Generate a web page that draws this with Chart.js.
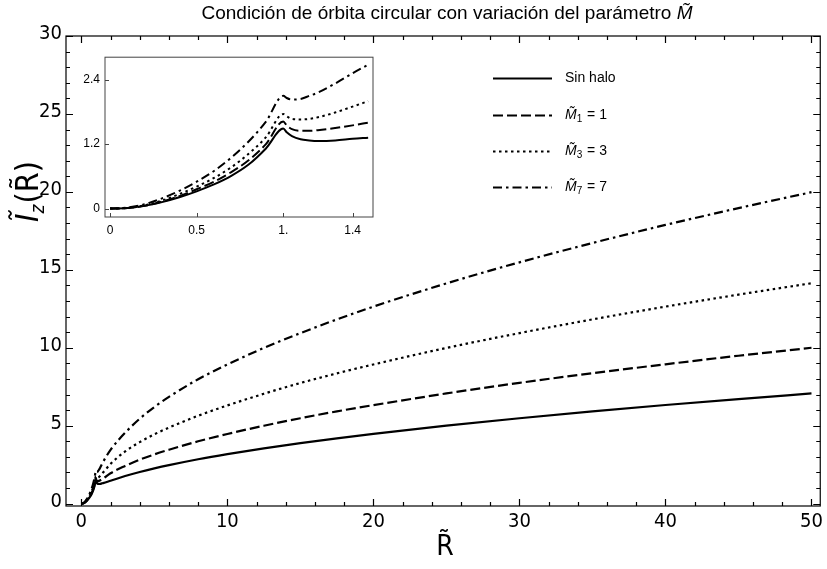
<!DOCTYPE html>
<html>
<head>
<meta charset="utf-8">
<script src="https://cdn.jsdelivr.net/npm/chart.js@4.4.1/dist/chart.umd.min.js"></script>
<style>
html, body { margin: 0; padding: 0; background: #fff; }
#wrap { position: relative; width: 827px; height: 569px; }
#main { position: absolute; left: 0; top: 0; }
#inset { position: absolute; left: 80px; top: 45px; }
</style>
</head>
<body>
<div id="wrap">
  <canvas id="main" width="827" height="569"></canvas>
  <canvas id="inset" width="300" height="200"></canvas>
</div>
<script>
// R values
var radios = [0, 0.1, 0.2, 0.3, 0.4, 0.5, 0.6, 0.7, 0.8, 0.9, 1.0, 1.02, 1.05, 1.1, 1.15, 1.2, 1.3, 1.4, 1.49,
              2, 3, 4, 5, 6, 8, 10, 12.5, 15, 17.5, 20, 25, 30, 35, 40, 45, 50];
var sinHalo = [0, 0.01, 0.05, 0.12, 0.21, 0.32, 0.45, 0.61, 0.82, 1.12, 1.49, 1.42, 1.35, 1.29, 1.27, 1.26, 1.27, 1.30, 1.32,
               1.47, 1.77, 2.03, 2.26, 2.47, 2.85, 3.18, 3.55, 3.88, 4.19, 4.48, 5.0, 5.48, 5.92, 6.33, 6.71, 7.07];
var m1 = [0, 0.01, 0.05, 0.13, 0.23, 0.36, 0.5, 0.68, 0.9, 1.2, 1.62, 1.55, 1.48, 1.45, 1.45, 1.46, 1.5, 1.55, 1.6,
          1.95, 2.42, 2.82, 3.16, 3.46, 4.0, 4.47, 5.0, 5.48, 5.92, 6.32, 7.07, 7.75, 8.37, 8.94, 9.49, 10.0];
var m3 = [0, 0.01, 0.06, 0.15, 0.27, 0.41, 0.57, 0.77, 1.02, 1.33, 1.76, 1.72, 1.67, 1.66, 1.67, 1.7, 1.79, 1.9, 2.0,
          2.55, 3.35, 3.95, 4.45, 4.88, 5.64, 6.3, 7.05, 7.74, 8.36, 8.93, 9.99, 10.94, 11.82, 12.64, 13.41, 14.14];
var m7 = [0, 0.02, 0.08, 0.19, 0.33, 0.5, 0.7, 0.95, 1.25, 1.62, 2.1, 2.06, 2.03, 2.04, 2.1, 2.16, 2.33, 2.52, 2.68,
          3.45, 4.55, 5.45, 6.2, 6.85, 7.98, 8.93, 9.99, 10.94, 11.82, 12.64, 14.13, 15.48, 16.72, 17.88, 18.96, 19.98];

var xTicksMain = [0, 10, 20, 30, 40, 50];
var yTicksMain = [0, 5, 10, 15, 20, 25, 30];
var xTicksInset = [0, 0.5, 1, 1.4];
var xLabelsInset = ['0', '0.5', '1.', '1.4'];
var yTicksInset = [0, 1.2, 2.4];
var yLabelsInset = ['0', '1.2', '2.4'];

var nombres = ['Sin halo', '1', '3', '7'];
var dashes = [[], [10, 4], [2.5, 3.5], [9, 4, 2.5, 4]];

function puntos(ys, maxR) {
    var out = [];
    for (var i = 0; i < radios.length; i++) {
        if (radios[i] <= maxR) out.push({x: radios[i], y: ys[i]});
    }
    return out;
}

function series(maxR, width) {
    return [sinHalo, m1, m3, m7].map(function(ys, i) {
        return {
            label: nombres[i],
            data: puntos(ys, maxR),
            borderColor: '#000',
            borderWidth: width,
            borderDash: dashes[i],
            borderCapStyle: 'butt',
            pointRadius: 0,
            cubicInterpolationMode: 'monotone',
            fill: false
        };
    });
}

function range(a, b, s) {
    var r = [];
    for (var v = a; v <= b + 1e-9; v += s) r.push(Math.round(v * 1000) / 1000);
    return r;
}

// frame + inside ticks, Mathematica style
var frameTicks = {
    id: 'frameTicks',
    afterDraw: function(chart, args, o) {
        var ctx = chart.ctx, a = chart.chartArea;
        var xs = chart.scales.x, ys = chart.scales.y;
        ctx.save();
        ctx.strokeStyle = o.color;
        ctx.lineWidth = o.width;
        ctx.strokeRect(a.left, a.top, a.right - a.left, a.bottom - a.top);
        ctx.beginPath();
        o.xMinor.forEach(function(v) {
            var p = Math.round(xs.getPixelForValue(v)) + 0.5;
            var len = o.xMajor.indexOf(v) >= 0 ? o.major : o.minor;
            ctx.moveTo(p, a.bottom); ctx.lineTo(p, a.bottom - len);
            if (o.mirror) { ctx.moveTo(p, a.top); ctx.lineTo(p, a.top + len); }
        });
        o.yMinor.forEach(function(v) {
            var p = Math.round(ys.getPixelForValue(v)) + 0.5;
            var len = o.yMajor.indexOf(v) >= 0 ? o.major : o.minor;
            ctx.moveTo(a.left, p); ctx.lineTo(a.left + len, p);
            if (o.mirror) { ctx.moveTo(a.right, p); ctx.lineTo(a.right - len, p); }
        });
        ctx.stroke();
        ctx.restore();
    }
};

// title, axis titles and legend
var textos = {
    id: 'textos',
    afterDraw: function(chart) {
        var ctx = chart.ctx;
        ctx.save();
        ctx.fillStyle = '#000';
        ctx.textBaseline = 'middle';

        // title
        ctx.font = '19px "Liberation Sans", Arial, sans-serif';
        var t1 = 'Condición de órbita circular con variación del parámetro ';
        var w1 = ctx.measureText(t1).width;
        ctx.font = 'italic 19px "Liberation Sans", Arial, sans-serif';
        var w2 = ctx.measureText('M\u0303').width;
        var x0 = 447 - (w1 + w2) / 2;
        ctx.font = '19px "Liberation Sans", Arial, sans-serif';
        ctx.textAlign = 'left';
        ctx.fillText(t1, x0, 14);
        ctx.font = 'italic 19px "Liberation Sans", Arial, sans-serif';
        ctx.fillText('M\u0303', x0 + w1, 14);

        // x axis title
        ctx.font = '28px "DejaVu Sans Condensed", "DejaVu Sans", sans-serif';
        ctx.textAlign = 'center';
        ctx.fillText('R\u0303', 445, 548);

        // y axis title, rotated
        ctx.save();
        ctx.translate(30, 192);
        ctx.rotate(-Math.PI / 2);
        var f1 = 'italic 32px "DejaVu Sans Condensed", "DejaVu Sans", sans-serif';
        var f2 = 'italic 19px "DejaVu Sans Condensed", "DejaVu Sans", sans-serif';
        var f3 = '32px "DejaVu Sans Condensed", "DejaVu Sans", sans-serif';
        ctx.font = f1; var a1 = ctx.measureText('\u0128').width;
        ctx.font = f2; var a2 = ctx.measureText('z').width;
        ctx.font = f3; var a3 = ctx.measureText('(R\u0303)').width;
        var sx = -(a1 + a2 + a3) / 2;
        ctx.textAlign = 'left';
        ctx.font = f1; ctx.fillText('\u0128', sx, 0);
        ctx.font = f2; ctx.fillText('z', sx + a1, 9);
        ctx.font = f3; ctx.fillText('(R\u0303)', sx + a1 + a2 + 1, 0);
        ctx.restore();

        // legend
        var filas = [78, 115, 151, 187];
        filas.forEach(function(yy, i) {
            ctx.save();
            ctx.strokeStyle = '#000';
            ctx.lineWidth = 2.2;
            ctx.lineCap = 'butt';
            ctx.setLineDash(dashes[i]);
            ctx.beginPath();
            ctx.moveTo(493, yy + 0.5);
            ctx.lineTo(552, yy + 0.5);
            ctx.stroke();
            ctx.restore();
            ctx.textAlign = 'left';
            if (i === 0) {
                ctx.font = '14px "Liberation Sans", Arial, sans-serif';
                ctx.fillText(nombres[0], 565, yy);
            } else {
                ctx.font = 'italic 14px "Liberation Sans", Arial, sans-serif';
                ctx.fillText('M\u0303', 565, yy);
                var wm = ctx.measureText('M').width;
                ctx.font = '10px "Liberation Sans", Arial, sans-serif';
                ctx.fillText(nombres[i], 565 + wm, yy + 4);
                var ws = ctx.measureText(nombres[i]).width;
                ctx.font = '14px "Liberation Sans", Arial, sans-serif';
                ctx.fillText(' = ' + nombres[i], 565 + wm + ws + 1, yy);
            }
        });
        ctx.restore();
    }
};

var fontMain = {family: '"DejaVu Sans Condensed", "DejaVu Sans", sans-serif', size: 20};
var fontInset = {family: '"Liberation Sans", Arial, sans-serif', size: 12};

var ctxMain = document.getElementById('main').getContext('2d');
var chartMain = new Chart(ctxMain, {
    type: 'line',
    data: { datasets: series(100, 2.2) },
    options: {
        responsive: false,
        animation: false,
        layout: { padding: { top: 36, right: 6, left: 0, bottom: 0 } },
        plugins: {
            legend: { display: false },
            tooltip: { enabled: false },
            frameTicks: {
                color: '#000', width: 1.2, major: 7, minor: 4, mirror: true,
                xMajor: xTicksMain, xMinor: range(0, 50, 2),
                yMajor: yTicksMain, yMinor: range(0, 30, 1)
            }
        },
        scales: {
            x: {
                type: 'linear', min: -1.05, max: 50.6,
                afterBuildTicks: function(s) { s.ticks = xTicksMain.map(function(v) { return {value: v}; }); },
                afterFit: function(s) { s.height = 63; },
                grid: { display: false, drawTicks: false },
                border: { display: false },
                ticks: { font: fontMain, color: '#000', padding: 4, maxRotation: 0, autoSkip: false }
            },
            y: {
                type: 'linear', min: -0.15, max: 30,
                afterBuildTicks: function(s) { s.ticks = yTicksMain.map(function(v) { return {value: v}; }); },
                afterFit: function(s) { s.width = 66; },
                grid: { display: false, drawTicks: false },
                border: { display: false },
                ticks: { font: fontMain, color: '#000', padding: 4, labelOffset: -2, autoSkip: false }
            }
        }
    },
    plugins: [frameTicks, textos]
});

var ctxInset = document.getElementById('inset').getContext('2d');
var chartInset = new Chart(ctxInset, {
    type: 'line',
    data: { datasets: series(1.5, 2) },
    options: {
        responsive: false,
        animation: false,
        layout: { padding: { top: 8, right: 7, left: 0, bottom: 0 } },
        plugins: {
            legend: { display: false },
            tooltip: { enabled: false },
            frameTicks: {
                color: '#444', width: 1, major: 4, minor: 4, mirror: false,
                xMajor: xTicksInset, xMinor: xTicksInset,
                yMajor: yTicksInset, yMinor: yTicksInset
            }
        },
        scales: {
            x: {
                type: 'linear', min: -0.029, max: 1.518,
                afterBuildTicks: function(s) { s.ticks = xTicksInset.map(function(v) { return {value: v}; }); },
                afterFit: function(s) { s.height = 28; },
                grid: { display: false, drawTicks: false },
                border: { display: false },
                ticks: {
                    font: fontInset, color: '#000', padding: 6, maxRotation: 0, autoSkip: false,
                    callback: function(v, i) { return xLabelsInset[i]; }
                }
            },
            y: {
                type: 'linear', min: -0.157, max: 2.82,
                afterBuildTicks: function(s) { s.ticks = yTicksInset.map(function(v) { return {value: v}; }); },
                afterFit: function(s) { s.width = 25; },
                grid: { display: false, drawTicks: false },
                border: { display: false },
                ticks: {
                    font: fontInset, color: '#000', padding: 5, autoSkip: false,
                    callback: function(v, i) { return yLabelsInset[i]; }
                }
            }
        }
    },
    plugins: [frameTicks]
});
</script>
</body>
</html>
